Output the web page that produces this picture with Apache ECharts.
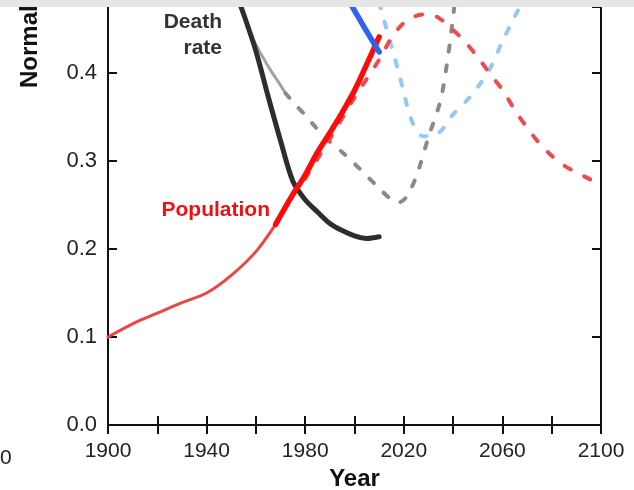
<!DOCTYPE html>
<html>
<head>
<meta charset="utf-8">
<script src="https://cdn.jsdelivr.net/npm/echarts@6/dist/echarts.min.js"></script>
<style>
  html, body { margin: 0; padding: 0; background: #ffffff; }
  #chart { width: 634px; height: 490px; }
</style>
</head>
<body>
<div id="chart"></div>
<script>
// Population, historical estimates (thin) and recent record (thick)
const popEarlyYears = [1900, 1910, 1920, 1930, 1940, 1950, 1960, 1968];
const popEarlyValues = [0.100, 0.115, 0.127, 0.139, 0.150, 0.170, 0.197, 0.228];
const popRecentYears = [1968, 1975, 1980, 1985, 1990, 1995, 2000, 2005, 2010];
const popRecentValues = [0.228, 0.262, 0.284, 0.310, 0.332, 0.355, 0.380, 0.410, 0.441];
// Population projection
const popProjYears = [1980, 1990, 2000, 2010, 2015, 2020, 2025, 2030, 2035, 2040, 2045, 2050, 2055, 2060, 2065, 2070, 2075, 2080, 2085, 2090, 2095, 2098];
const popProjValues = [0.280, 0.325, 0.372, 0.415, 0.440, 0.457, 0.465, 0.467, 0.461, 0.449, 0.435, 0.418, 0.399, 0.381, 0.358, 0.338, 0.320, 0.306, 0.295, 0.287, 0.280, 0.276];
// Death rate
const deathYears = [1950, 1955, 1960, 1965, 1970, 1975, 1980, 1985, 1990, 1995, 2000, 2005, 2010];
const deathValues = [0.505, 0.467, 0.425, 0.373, 0.323, 0.277, 0.256, 0.242, 0.229, 0.221, 0.215, 0.212, 0.214];
// Earlier death-rate model: fitted part and projection
const deathFitYears = [1958, 1962, 1966, 1970, 1972];
const deathFitValues = [0.443, 0.422, 0.403, 0.386, 0.377];
const deathProjYears = [1972, 1976, 1980, 1985, 1990, 1995, 2000, 2005, 2010, 2015, 2018, 2021, 2025, 2030, 2035, 2038, 2040, 2042];
const deathProjValues = [0.377, 0.364, 0.352, 0.336, 0.322, 0.310, 0.297, 0.283, 0.269, 0.256, 0.253, 0.259, 0.282, 0.327, 0.370, 0.420, 0.464, 0.510];
// Blue series (record and projection)
const blueYears = [1995, 2000, 2005, 2010];
const blueValues = [0.495, 0.471, 0.447, 0.424];
const blueProjYears = [2010, 2012, 2015, 2018, 2020, 2022, 2025, 2028, 2031, 2035, 2040, 2045, 2050, 2055, 2060, 2065, 2068];
const blueProjValues = [0.480, 0.460, 0.430, 0.400, 0.378, 0.356, 0.335, 0.328, 0.328, 0.334, 0.353, 0.367, 0.384, 0.405, 0.436, 0.464, 0.480];

// Axis ticks
const xTickLabels = [1900, 1940, 1980, 2020, 2060, 2100];
const yTickLabels = [0.0, 0.1, 0.2, 0.3, 0.4];

const pairs = (xs, ys) => xs.map((x, i) => [x, ys[i]]);

const FONT = '"Liberation Sans", Arial, sans-serif';

function lineSeries(xs, ys, color, width, dash) {
  return {
    type: 'line',
    data: pairs(xs, ys),
    showSymbol: false,
    smooth: 0.3,
    clip: true,
    lineStyle: { color: color, width: width, type: dash || 'solid', cap: 'round', join: 'round' },
    silent: true,
    animation: false
  };
}

const chart = echarts.init(document.getElementById('chart'), null, { renderer: 'canvas' });

const axisCommon = {
  axisLine: { show: true, lineStyle: { color: '#111', width: 2 } },
  axisTick: { show: true, inside: true, length: 9, lineStyle: { color: '#111', width: 2 } },
  splitLine: { show: false }
};

chart.setOption({
  animation: false,
  backgroundColor: '#ffffff',
  grid: { left: 108, right: 33, top: 7, bottom: 65, containLabel: false, outerBoundsMode: 'none' },
  xAxis: [
    Object.assign({
      type: 'value', min: 1900, max: 2100, interval: 20, position: 'bottom',
      axisLabel: {
        margin: 16, fontSize: 21, color: '#222', fontFamily: FONT,
        formatter: v => (xTickLabels.indexOf(v) >= 0 ? String(v) : '')
      },
      name: 'Year', nameLocation: 'middle', nameGap: 42,
      nameTextStyle: { fontSize: 24, fontWeight: 'bold', color: '#111', fontFamily: FONT }
    }, axisCommon),
    Object.assign({
      type: 'value', min: 1900, max: 2100, interval: 20, position: 'top',
      axisLabel: { show: false }
    }, axisCommon)
  ],
  yAxis: [
    Object.assign({
      type: 'value', min: 0, max: 0.475, interval: 0.1, position: 'left',
      axisLabel: {
        margin: 11, fontSize: 22, color: '#222', fontFamily: FONT,
        showMaxLabel: false,
        formatter: v => {
          const hit = yTickLabels.find(t => Math.abs(t - v) < 1e-6);
          return hit === undefined ? '' : hit.toFixed(1);
        }
      }
    }, axisCommon),
    Object.assign({
      type: 'value', min: 0, max: 0.475, interval: 0.1, position: 'right',
      axisLabel: { show: false }
    }, axisCommon)
  ],
  series: [
    lineSeries(deathFitYears, deathFitValues, '#a3a3a3', 3),
    lineSeries(deathProjYears, deathProjValues, '#8a8a8a', 4, [6, 14]),
    lineSeries(blueProjYears, blueProjValues, '#93c9f4', 4, [6, 14]),
    lineSeries(popProjYears, popProjValues, '#f04a4a', 4, [7, 15]),
    lineSeries(deathYears, deathValues, '#2d2d2d', 5),
    lineSeries(popEarlyYears, popEarlyValues, '#f04444', 3),
    lineSeries(popRecentYears, popRecentValues, '#ff0a0a', 5.5),
    lineSeries(blueYears, blueValues, '#2f62ee', 5.5)
  ],
  graphic: [
    {
      type: 'rect', z: 100,
      shape: { x: 0, y: 0, width: 634, height: 7 },
      style: { fill: '#e6e6e6' }
    },
    {
      type: 'text', z: 50, x: 222, y: 22,
      style: { text: 'Death', font: 'bold 21px ' + FONT, fill: '#333', align: 'right', verticalAlign: 'middle' }
    },
    {
      type: 'text', z: 50, x: 222, y: 48,
      style: { text: 'rate', font: 'bold 21px ' + FONT, fill: '#333', align: 'right', verticalAlign: 'middle' }
    },
    {
      type: 'text', z: 50, x: 270, y: 210,
      style: { text: 'Population', font: 'bold 21px ' + FONT, fill: '#ee1111', align: 'right', verticalAlign: 'middle' }
    },
    {
      type: 'text', z: 50, x: 30, y: 88, rotation: Math.PI / 2,
      style: { text: 'Normalized value', font: 'bold 24px ' + FONT, fill: '#111', align: 'left', verticalAlign: 'middle' }
    },
    {
      type: 'text', z: 50, x: 0, y: 458,
      style: { text: '0', font: '21px ' + FONT, fill: '#222', align: 'left', verticalAlign: 'middle' }
    }
  ]
});
</script>
</body>
</html>
